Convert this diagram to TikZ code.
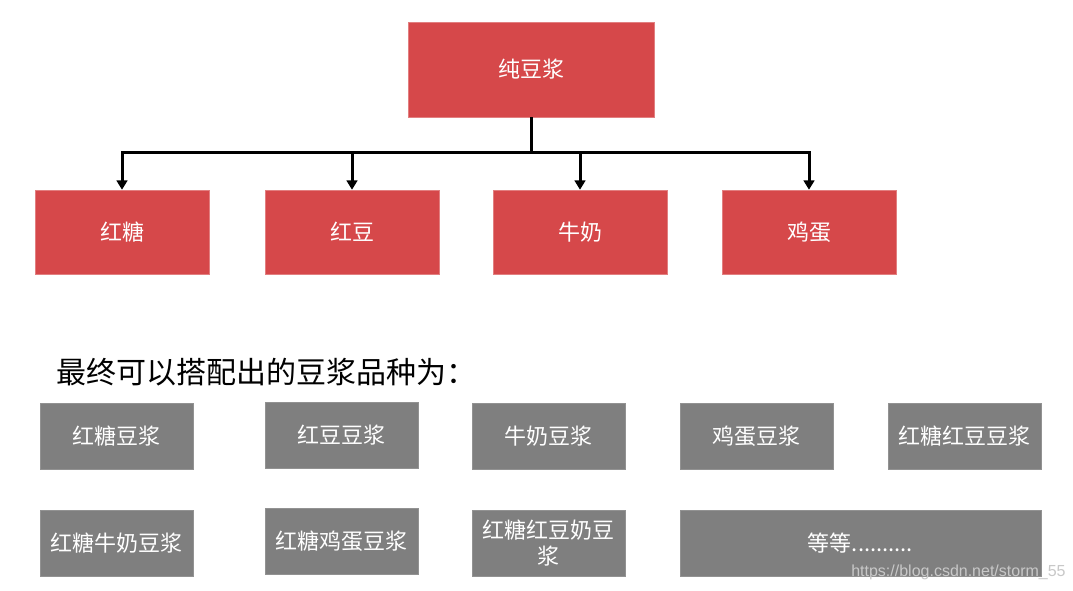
\documentclass[tikz,border=0pt]{standalone}
\usepackage{fontspec}
\setmainfont{Noto Sans CJK SC}
\newfontfamily\wmfont{Liberation Sans}
\usetikzlibrary{arrows.meta}
\definecolor{boxred}{RGB}{214,72,74}
\definecolor{boxgray}{RGB}{127,127,127}
\definecolor{wmgray}{RGB}{200,200,200}
\tikzset{
  redbox/.style={fill=boxred, draw=boxred!70!white, line width=0.4pt, text=white, inner sep=0pt,
    minimum width=174*0.75pt, minimum height=84*0.75pt, font=\fontsize{16.5pt}{20pt}\selectfont},
  graybox/.style={fill=boxgray, draw=boxgray!85!white, line width=0.4pt, text=white, inner sep=0pt,
    minimum width=153*0.75pt, minimum height=66*0.75pt, align=center, font=\fontsize{16.5pt}{19pt}\selectfont},
  link/.style={line width=2.25pt},
  arr/.style={link, -{Triangle[width=8pt,length=7pt]}}
}
\begin{document}
\begin{tikzpicture}[x=0.75pt,y=-0.75pt]
\fill[white] (0,0) rectangle (1073,590);
\useasboundingbox (0,0) rectangle (1073,590);
% top node
\node[redbox, minimum width=246*0.75pt, minimum height=95*0.75pt] (top) at (531,69.5) {纯豆浆};
% children
\node[redbox] (c1) at (122,232) {红糖};
\node[redbox] (c2) at (352,232) {红豆};
\node[redbox] (c3) at (580,232) {牛奶};
\node[redbox] (c4) at (809,232) {鸡蛋};
\coordinate (j) at (531,152);
\draw[link] (top.south) -- (j);
\foreach \c in {c1,c2,c3,c4}{
  \draw[arr] (j) -| (\c.north);
}
% title
\node[anchor=west, inner sep=0pt, font=\fontsize{22.5pt}{26pt}\selectfont] (title) at (56,372) {最终可以搭配出的豆浆品种为：};
% gray boxes row 1
\node[graybox] (g1) at (116.5,436) {红糖豆浆};
\node[graybox] (g2) at (341.5,435) {红豆豆浆};
\node[graybox] (g3) at (548.5,436) {牛奶豆浆};
\node[graybox] (g4) at (756.5,436) {鸡蛋豆浆};
\node[graybox] (g5) at (964.5,436) {红糖红豆豆浆};
% row 2
\node[graybox] (g6) at (116.5,543) {红糖牛奶豆浆};
\node[graybox] (g7) at (341.5,541.5) {红糖鸡蛋豆浆};
\node[graybox, font=\fontsize{16.5pt}{20pt}\selectfont] (g8) at (548.5,543) {红糖红豆奶豆\\[-1pt]浆};
\node[graybox, minimum width=361*0.75pt] (g9) at (860.5,543) {等等..........};
% watermark
\node[anchor=west, inner sep=0pt, text=wmgray, font=\wmfont\fontsize{12pt}{14pt}\selectfont] (wm) at (851,572) {https://blog.csdn.net/storm\_55};
\end{tikzpicture}
\end{document}
